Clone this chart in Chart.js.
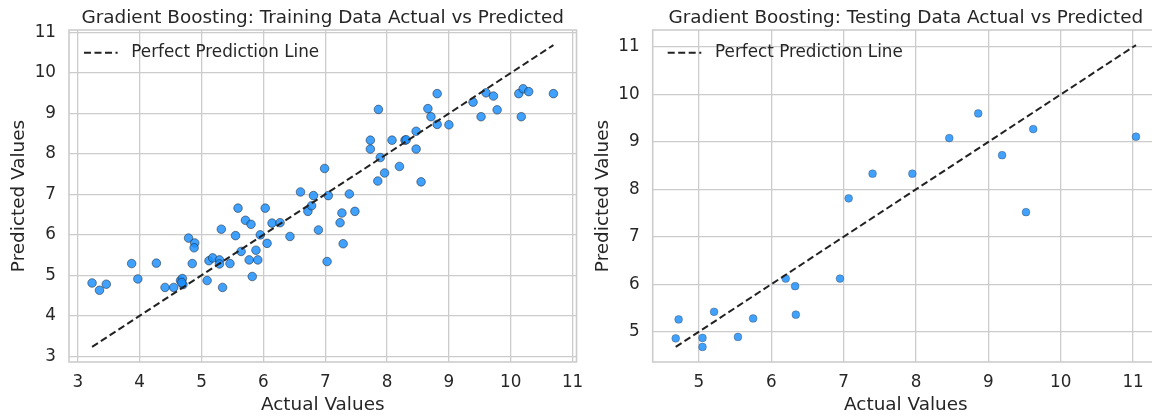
<!DOCTYPE html>
<html>
<head>
<meta charset="utf-8">
<script src="https://cdn.jsdelivr.net/npm/chart.js@4.4.0/dist/chart.umd.min.js"></script>
<style>
  html, body { margin: 0; padding: 0; background: #fff; overflow: hidden; }
  body { width: 1152px; height: 416px; position: relative; }
  #train { position: absolute; left: 0; top: 0; }
  #test { position: absolute; left: 584px; top: 0; }
</style>
</head>
<body>
<canvas id="train" width="584" height="416"></canvas>
<canvas id="test" width="590" height="416"></canvas>
<script>
// training set (80 points)
const trainActual = [3.23,3.35,3.46,3.87,3.97,4.27,4.41,4.55,4.66,4.69,4.70,4.68,4.79,4.89,4.88,4.85,5.09,5.12,5.18,5.29,
  5.29,5.34,5.32,5.46,5.55,5.59,5.64,5.71,5.80,5.77,5.82,5.88,5.91,5.95,6.03,6.06,6.14,6.27,6.43,6.60,
  6.81,6.72,6.78,6.89,7.05,7.03,7.39,7.27,7.24,7.48,7.29,6.99,7.85,8.55,7.96,8.20,7.89,7.73,7.73,8.08,
  8.29,8.31,8.47,8.47,7.86,8.66,8.71,8.81,9.00,8.81,9.39,9.60,9.72,9.52,9.78,10.13,10.20,10.29,10.17,10.69];
const trainPred = [4.81,4.63,4.78,5.29,4.91,5.30,4.70,4.70,4.87,4.92,4.77,4.82,5.92,5.80,5.68,5.29,4.87,5.36,5.43,5.38,
  5.28,4.70,6.14,5.29,5.98,6.66,5.59,6.36,6.26,5.38,4.97,5.62,5.38,6.00,6.66,5.79,6.29,6.30,5.96,7.06,
  6.97,6.58,6.72,6.12,6.97,5.34,7.01,6.54,6.30,6.58,5.78,7.64,7.33,7.31,7.53,7.69,7.91,8.34,8.12,8.34,
  8.34,8.35,8.56,8.12,9.10,9.12,8.92,8.73,8.72,9.49,9.28,9.51,9.43,8.92,9.09,9.49,9.61,9.54,8.92,9.49];

// testing set (20 points)
const testActual = [4.68,4.72,5.05,5.05,5.21,5.54,5.75,6.20,6.33,6.34,6.95,7.07,7.40,7.95,8.46,8.86,9.19,9.52,9.62,11.04];
const testPred = [4.86,5.26,4.87,4.68,5.42,4.89,5.28,6.12,5.96,5.36,6.12,7.81,8.33,8.33,9.08,9.60,8.72,7.52,9.27,9.11];

const textColor = '#262626';
const gridColor = '#cccccc';
Chart.defaults.font.family = "'DejaVu Sans'";
Chart.defaults.color = textColor;
Chart.defaults.animation = false;

// outer frame (matplotlib spines)
const frame = {
  id: 'frame',
  beforeDatasetsDraw(chart) {
    const {ctx, chartArea: a} = chart;
    ctx.save();
    ctx.strokeStyle = gridColor;
    ctx.lineWidth = 1.6;
    ctx.strokeRect(a.left, a.top, a.width, a.height);
    ctx.restore();
  }
};

function makeChart(id, title, actual, pred, opts) {
  const points = actual.map((x, i) => ({ x, y: pred[i] }));
  const lo = Math.min(...actual), hi = Math.max(...actual);
  const pad = (hi - lo) * 0.05;

  const ctx = document.getElementById(id).getContext('2d');
  return new Chart(ctx, {
    type: 'scatter',
    data: {
      datasets: [{
        label: 'Perfect Prediction Line',
        data: [{ x: lo, y: lo }, { x: hi, y: hi }],
        showLine: true,
        borderColor: '#222',
        borderWidth: 2,
        borderDash: [7, 3.5],
        pointRadius: 0
      }, {
        label: 'points',
        data: points,
        pointRadius: opts.radius,
        pointBackgroundColor: 'rgba(30,144,255,0.85)',
        pointBorderColor: opts.edge,
        pointBorderWidth: 0.8
      }]
    },
    options: {
      responsive: false,
      layout: { padding: { left: 0, top: 0, bottom: 0, right: opts.padRight } },
      plugins: {
        title: {
          display: true,
          text: title,
          fullSize: false,
          color: textColor,
          font: { size: 18.4, weight: 'normal' },
          padding: { top: 7, bottom: 0.92 }
        },
        legend: {
          position: 'chartArea',
          align: 'start',
          // the chartArea legend starts at y=0, an empty title pushes it down
          title: { display: true, text: '', font: { size: 10 }, padding: { top: 17.3, bottom: 0 } },
          labels: {
            usePointStyle: true,
            pointStyleWidth: 33.6,
            padding: 15,
            color: textColor,
            font: { size: 16.8 },
            generateLabels: () => [{
              text: ' Perfect Prediction Line',
              pointStyle: 'line',
              strokeStyle: '#222',
              fillStyle: '#222',
              lineWidth: 2,
              lineDash: [7, 3.5],
              lineDashOffset: 0,
              fontColor: textColor,
              hidden: false,
              datasetIndex: 0
            }]
          }
        },
        tooltip: { enabled: false }
      },
      scales: {
        x: {
          type: 'linear',
          min: lo - pad,
          max: hi + pad,
          afterFit: (scale) => { scale.height = 54; },
          ticks: { stepSize: 1, includeBounds: false, padding: 0, color: textColor, font: { size: 16.8 } },
          grid: { color: gridColor, lineWidth: 1.3, drawTicks: true, tickLength: 10.5, tickColor: 'rgba(0,0,0,0)' },
          border: { display: false },
          title: { display: true, text: 'Actual Values', color: textColor, font: { size: 18.4 }, padding: 0 }
        },
        y: {
          type: 'linear',
          min: lo - pad,
          max: hi + pad,
          afterFit: (scale) => { scale.width = opts.yWidth; },
          ticks: { stepSize: 1, includeBounds: false, padding: 0, color: textColor, font: { size: 16.8 } },
          grid: { color: gridColor, lineWidth: 1.3, drawTicks: true, tickLength: 13, tickColor: 'rgba(0,0,0,0)' },
          border: { display: false },
          title: { display: true, text: 'Predicted Values', color: textColor, font: { size: 18.4 }, padding: { top: 8.5, bottom: 0 } }
        }
      }
    },
    plugins: [frame]
  });
}

makeChart('train', 'Gradient Boosting: Training Data Actual vs Predicted', trainActual, trainPred,
  { radius: 4.3, edge: 'rgba(20,20,20,0.6)', yWidth: 69, padRight: 7.5 });
makeChart('test', 'Gradient Boosting: Testing Data Actual vs Predicted', testActual, testPred,
  { radius: 3.9, edge: 'rgba(60,60,60,0.45)', yWidth: 68.7, padRight: 15 });
</script>
</body>
</html>
